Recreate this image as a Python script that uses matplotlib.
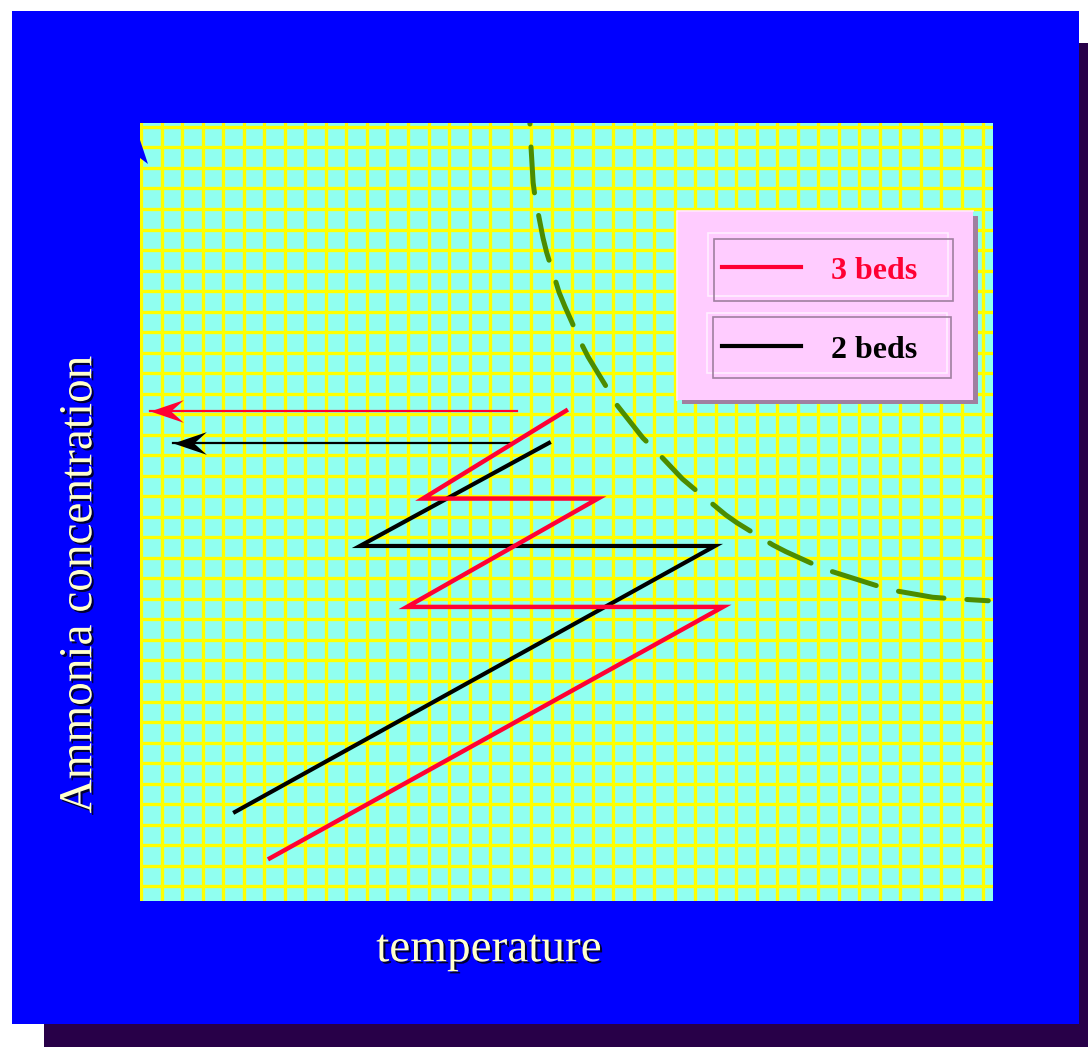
import numpy as np
import matplotlib.pyplot as plt
import matplotlib.patheffects as pe
from matplotlib.patches import Rectangle, Polygon
from matplotlib.lines import Line2D
from matplotlib.path import Path

# Data in grid units (one grid square = 1)
# 2 beds path
black_x = [4.57, 27.96, 10.66, 19.87]
black_y = [3.62, 16.58, 16.58, 21.60]
black_arrow_x = [17.97, 1.56]
black_arrow_y = [21.58, 21.58]

# 3 beds path
red_x = [6.27, 28.35, 12.95, 22.26, 13.73, 20.70]
red_y = [1.36, 13.61, 13.61, 18.89, 18.89, 23.17]
red_arrow_x = [18.29, 0.42]
red_arrow_y = [23.14, 23.14]

# equilibrium curve
eq_x = [18.94, 18.98, 19.10, 19.19, 19.58, 19.76, 20.37, 20.65, 21.46, 21.78, 22.84,
        23.18, 24.45, 24.94, 26.38, 26.89, 28.49, 29.03, 30.78, 31.42, 33.27, 33.90,
        35.89, 36.57, 38.57, 39.25, 41.28]
eq_y = [37.19, 36.28, 34.28, 33.59, 31.59, 30.87, 28.92, 28.24, 26.42, 25.79, 24.05,
        23.45, 21.84, 21.36, 19.84, 19.41, 18.09, 17.71, 16.63, 16.30, 15.46, 15.26,
        14.63, 14.43, 14.08, 14.03, 13.91]

labels = ['3 beds', '2 beds']
colors = ['#ff0033', '#000000']

W, H = 1088, 1047
fig = plt.figure(figsize=(W / 100, H / 100), dpi=100)
fig.patch.set_facecolor('white')


def fx(x):
    return x / W


def fy(y):
    return 1 - y / H


def rect(x0, y0, x1, y1, **kw):
    r = Rectangle((fx(x0), fy(y1)), (x1 - x0) / W, (y1 - y0) / H,
                  transform=fig.transFigure, **kw)
    fig.add_artist(r)
    return r


def fline(xs, ys, **kw):
    fig.add_artist(Line2D([fx(v) for v in xs], [fy(v) for v in ys],
                          transform=fig.transFigure, **kw))


# slide background
rect(44, 43, 1120, 1080, facecolor='#280048', edgecolor='none', zorder=-3)
rect(12, 11, 1079, 1024, facecolor='#0000ff', edgecolor='none', zorder=-2)

ax = fig.add_axes([fx(140), fy(901), (993 - 140) / W, (901 - 123) / H])
ax.set_facecolor('#90fff0')
ax.set_xlim(-0.06, 41.51)
ax.set_ylim(-0.72, 37.19)
ax.set_xticks(np.arange(0, 42))
ax.set_yticks(np.arange(0, 38))
ax.grid(True, color='#ffff00', linewidth=2.4)
ax.tick_params(length=0, labelbottom=False, labelleft=False)
for s in ax.spines.values():
    s.set_visible(False)

ax.plot(black_x, black_y, color=colors[1], lw=3.0, solid_joinstyle='miter', zorder=3)
ax.plot(red_x, red_y, color=colors[0], lw=3.2, solid_joinstyle='miter', zorder=4)

# arrows with swept-back heads
head = Path([(0, 0), (1, 0.34), (0.62, 0), (1, -0.34), (0, 0)],
            [Path.MOVETO, Path.LINETO, Path.LINETO, Path.LINETO, Path.CLOSEPOLY])
ax.plot(red_arrow_x, red_arrow_y, color=colors[0], lw=1.6, zorder=4)
ax.plot(red_arrow_x[-1:], red_arrow_y[-1:], marker=head, ms=48, mew=0,
        color=colors[0], zorder=4)
ax.plot(black_arrow_x, black_arrow_y, color=colors[1], lw=1.6, zorder=3)
ax.plot(black_arrow_x[-1:], black_arrow_y[-1:], marker=head, ms=48, mew=0,
        color=colors[1], zorder=3)

ax.plot(eq_x, eq_y, color='#4c8c00', lw=3.6, ls=(9.0, (9.2, 4.6)),
        dash_capstyle='round', zorder=2)

# small notch at the top-left of the plot
fig.add_artist(Polygon([(fx(140), fy(140)), (fx(148), fy(164)), (fx(140), fy(158))],
                       closed=True, transform=fig.transFigure,
                       facecolor='#0000ff', edgecolor='none', zorder=5))

# legend panel
rect(682, 216, 978, 404, facecolor='#a080a0', edgecolor='none', zorder=5)
rect(677, 211, 973, 400, facecolor='#ffccff', edgecolor='none', zorder=5)
fline([677, 677, 973], [400, 211, 211], color='#ffe6ff', lw=1.2, zorder=6)

boxes = [(708, 233, 948, 296, 714, 239, 953, 301, 267),
         (707, 313, 947, 373, 713, 317, 951, 378, 346)]
for (lx0, ly0, lx1, ly1, dx0, dy0, dx1, dy1, cy), lab, c in zip(boxes, labels, colors):
    rect(lx0, ly0, lx1, ly1, facecolor='none', edgecolor='#ffeeff', lw=1.2, zorder=6)
    rect(dx0, dy0, dx1, dy1, facecolor='none', edgecolor='#a080a0', lw=1.2, zorder=6)
    fline([722, 801], [cy, cy], color=c, lw=3.0, zorder=7)
    fig.text(fx(874), fy(cy + 4), lab, color=c, fontsize=23, fontweight='bold',
             family='Liberation Serif', ha='center', va='center', zorder=7)

# axis labels
shadow = [pe.SimplePatchShadow(offset=(1.5, -1.5), shadow_rgbFace='#000030', alpha=1.0),
          pe.Normal()]
fig.text(fx(489), fy(950), 'temperature', color='#ffffcc', fontsize=34,
         family='Liberation Serif', ha='center', va='center', path_effects=shadow)
fig.text(fx(80), fy(584), 'Ammonia concentration', color='#ffffcc', fontsize=34,
         family='Liberation Serif', ha='center', va='center', rotation=90,
         path_effects=shadow)

plt.savefig('out.png', dpi=100, facecolor=fig.get_facecolor())
